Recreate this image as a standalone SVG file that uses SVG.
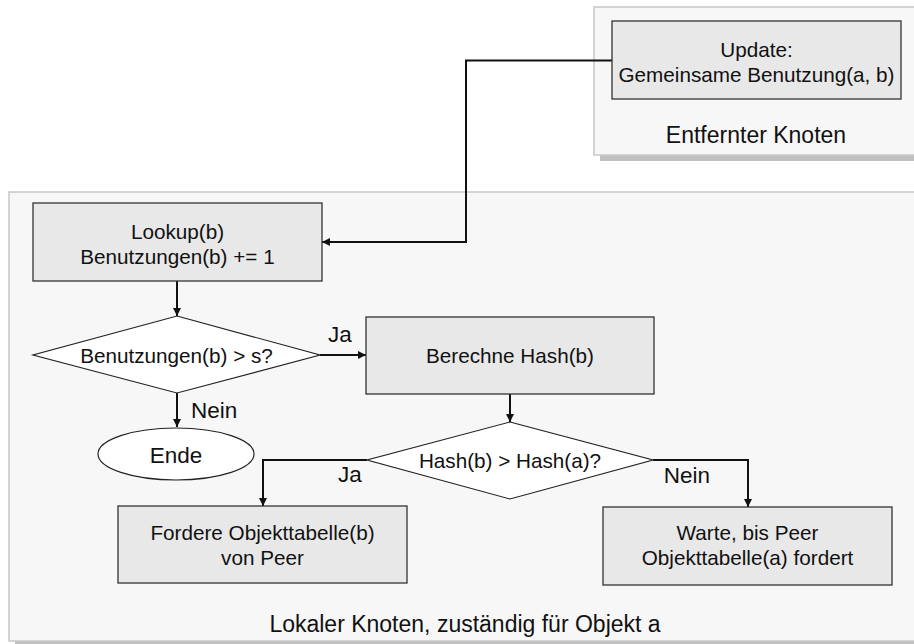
<svg xmlns="http://www.w3.org/2000/svg" width="914" height="644" viewBox="0 0 914 644">
  <style>
    text { font-family: "Liberation Sans", Arial, sans-serif; font-size: 20.7px; fill: #111; }
    .c { text-anchor: middle; }
    .lbl { font-size: 22.5px; }
    .title { font-size: 23px; }
    .area { fill: #f7f7f7; stroke: #c8c8c8; stroke-width: 1.5; }
    .shadow { fill: #c0c0c0; }
    .box { fill: #e8e8e8; stroke: #333; stroke-width: 1.3; }
    .dec { fill: #ffffff; stroke: #222; stroke-width: 1.2; }
    .wire { fill: none; stroke: #111; stroke-width: 2; marker-end: url(#arr); }
  </style>
  <defs>
    <marker id="arr" viewBox="0 0 10 10" refX="10" refY="5" markerWidth="10" markerHeight="8" markerUnits="userSpaceOnUse" orient="auto">
      <path d="M0,0 L10,5 L0,10 z" fill="#111"/>
    </marker>
  </defs>
  <rect width="914" height="644" fill="#ffffff"/>

  <!-- remote node area -->
  <g id="remote-area">
    <rect class="shadow" x="600" y="13" width="330" height="148"/>
    <rect class="area" x="594" y="7" width="330" height="148"/>
    <text class="c title" x="756" y="143">Entfernter Knoten</text>
  </g>

  <!-- local node area -->
  <g id="local-area">
    <rect class="shadow" x="15" y="198" width="920" height="460"/>
    <rect class="area" x="9" y="192" width="920" height="449"/>
    <text class="c title" x="465" y="632">Lokaler Knoten, zuständig für Objekt a</text>
  </g>

  <!-- connectors -->
  <g id="connectors">
    <polyline class="wire" points="612,60.5 466,60.5 466,242 322,242"/>
    <line class="wire" x1="177" y1="281" x2="177" y2="316"/>
    <line class="wire" x1="320" y1="355" x2="366" y2="355"/>
    <line class="wire" x1="177" y1="393" x2="177" y2="427"/>
    <line class="wire" x1="510" y1="394" x2="510" y2="422"/>
    <polyline class="wire" points="367,460 263,460 263,506"/>
    <polyline class="wire" points="653,460 748,460 748,507"/>
    <text x="340" y="342" class="c lbl">Ja</text>
    <text x="191" y="418" class="lbl">Nein</text>
    <text x="350" y="482" class="c lbl">Ja</text>
    <text x="687" y="483" class="c lbl">Nein</text>
  </g>

  <g id="update">
    <rect class="box" x="612" y="21" width="289" height="78"/>
    <text class="c" x="756.5" y="57">Update:</text>
    <text class="c" x="756.5" y="82">Gemeinsame Benutzung(a, b)</text>
  </g>

  <g id="lookup">
    <rect class="box" x="33" y="203" width="289" height="78"/>
    <text class="c" x="177.5" y="239">Lookup(b)</text>
    <text class="c" x="177.5" y="264">Benutzungen(b) += 1</text>
  </g>

  <g id="check-usage">
    <polygon class="dec" points="177,316 320,355 177,393 33,355"/>
    <text class="c" x="176.5" y="363">Benutzungen(b) &gt; s?</text>
  </g>

  <g id="ende">
    <ellipse class="dec" cx="176" cy="454" rx="78" ry="26"/>
    <text class="c lbl" x="176" y="463">Ende</text>
  </g>

  <g id="hash">
    <rect class="box" x="366" y="317" width="288" height="77"/>
    <text class="c" x="510" y="363">Berechne Hash(b)</text>
  </g>

  <g id="compare-hash">
    <polygon class="dec" points="510,422 653,460 510,499 367,460"/>
    <text class="c" x="510" y="468">Hash(b) &gt; Hash(a)?</text>
  </g>

  <g id="request">
    <rect class="box" x="118" y="506" width="289" height="77"/>
    <text class="c" x="262.5" y="540">Fordere Objekttabelle(b)</text>
    <text class="c" x="262.5" y="565">von Peer</text>
  </g>

  <g id="wait">
    <rect class="box" x="603" y="507" width="289" height="78"/>
    <text class="c" x="747.5" y="540">Warte, bis Peer</text>
    <text class="c" x="747.5" y="565">Objekttabelle(a) fordert</text>
  </g>
</svg>
